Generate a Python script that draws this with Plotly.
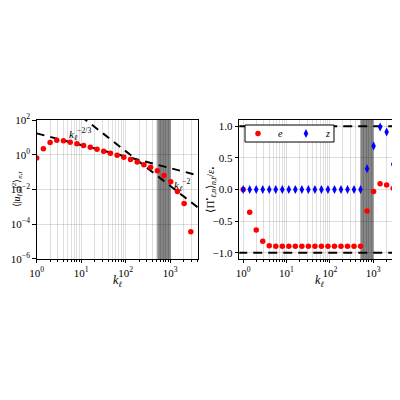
import numpy as np
import plotly.graph_objects as go

# shell wavenumbers k = 2^(n/2)
n_left = list(range(24))
n_right = list(range(25))
k_left = [2 ** (n / 2) for n in n_left]
k_right = [2 ** (n / 2) for n in n_right]

# left panel: log10 of <|u|^2>
log_u2 = [-0.18, 0.34, 0.71, 0.84, 0.80, 0.72, 0.63, 0.53, 0.43, 0.32, 0.20, 0.09,
          -0.03, -0.14, -0.28, -0.42, -0.57, -0.72, -0.92, -1.19, -1.56, -2.12, -2.81, -4.43]
u2 = [10 ** v for v in log_u2]

# right panel fluxes
flux_e = [0.0, -0.36, -0.64, -0.82, -0.89, -0.90, -0.90, -0.90, -0.90, -0.90, -0.90, -0.90,
          -0.90, -0.90, -0.90, -0.90, -0.90, -0.90, -0.90, -0.34, -0.03, 0.09, 0.07, 0.02, 0.0]
flux_z = [0.0] * 19 + [0.33, 0.69, 0.99, 0.91, 0.40, 0.0]

band = [512, 1024]
amp_23 = 17.0
amp_2 = 1.6e4
ref_levels = [1.0, -1.0]

left_yticks = [1e-6, 1e-4, 1e-2, 1e0, 1e2]
left_yticktext = ["10<sup>−6</sup>", "10<sup>−4</sup>", "10<sup>−2</sup>", "10<sup>0</sup>", "10<sup>2</sup>"]
xticks = [1, 10, 100, 1000]
xticktext = ["10<sup>0</sup>", "10<sup>1</sup>", "10<sup>2</sup>", "10<sup>3</sup>"]
minor_xticks = [m * d for d in (1, 10, 100, 1000) for m in range(2, 10)]

FONT = "Liberation Serif"
GRID = "rgba(0,0,0,0.13)"
W, H = 392, 384  # page adds an 8px body margin; keep the page from overflowing 400x400

fig = go.Figure()

kk = np.array(k_right)
fig.add_trace(go.Scatter(x=k_right, y=list(amp_23 * kk ** (-2 / 3)), mode="lines",
                         line=dict(color="black", width=2, dash="8px,6px"),
                         showlegend=False, xaxis="x", yaxis="y"))
fig.add_trace(go.Scatter(x=k_right, y=list(amp_2 * kk ** (-2.0)), mode="lines",
                         line=dict(color="black", width=2, dash="8px,6px"),
                         showlegend=False, xaxis="x", yaxis="y"))
fig.add_trace(go.Scatter(x=k_left, y=u2, mode="markers",
                         marker=dict(color="red", size=5.5), showlegend=False,
                         xaxis="x", yaxis="y"))

for lv in ref_levels:
    fig.add_trace(go.Scatter(x=[k_right[0] / 1.3, k_right[-1] * 1.1], y=[lv, lv], mode="lines",
                             line=dict(color="black", width=2, dash="9px,6px"),
                             showlegend=False, xaxis="x2", yaxis="y2"))
fig.add_trace(go.Scatter(x=k_right, y=flux_e, mode="markers", name="<i>e</i>",
                         marker=dict(color="red", size=5.5), cliponaxis=False,
                         xaxis="x2", yaxis="y2"))
fig.add_trace(go.Scatter(x=k_right, y=flux_z, mode="markers", name="<i>z</i>",
                         marker=dict(color="blue", size=6.5, symbol="diamond-tall"),
                         cliponaxis=False, xaxis="x2", yaxis="y2"))

for xr, yr in [("x", "y domain"), ("x2", "y2 domain")]:
    fig.add_shape(type="rect", x0=band[0], x1=band[1], xref=xr, yref=yr,
                  y0=0, y1=1, fillcolor="rgb(125,125,125)", opacity=0.95, line_width=0,
                  layer="below")

# legend frame
fig.add_shape(type="rect", xref="paper", yref="paper", x0=0.6046, x1=0.8316, y0=0.6510, y1=0.6953,
              fillcolor="white", line=dict(color="black", width=1), layer="above")

axis_common = dict(showline=True, linecolor="black", linewidth=1, mirror=True,
                   ticks="outside", ticklen=3.5, tickcolor="black", automargin=False,
                   tickfont=dict(family=FONT, size=11, color="black"), zeroline=False)

minor = dict(tickmode="array", tickvals=minor_xticks, showgrid=True, gridcolor=GRID,
             gridwidth=0.8, ticks="outside", ticklen=2, tickcolor="black")

YDOM = [0.3464, 0.7083]
ymid = (YDOM[0] + YDOM[1]) / 2

fig.update_layout(
    width=W, height=H, margin=dict(l=0, r=0, t=0, b=0, autoexpand=False),
    paper_bgcolor="white", plot_bgcolor="white",
    font=dict(family=FONT, size=11, color="black"),
    xaxis=dict(axis_common, type="log", domain=[0.0732, 0.4847], range=[0, np.log10(4200)],
               tickvals=xticks, ticktext=xticktext, showgrid=True, gridcolor=GRID, gridwidth=0.8,
               minor=minor, anchor="y"),
    yaxis=dict(axis_common, type="log", domain=YDOM, range=[-6, 2],
               tickvals=left_yticks, ticktext=left_yticktext, showgrid=True,
               gridcolor=GRID, gridwidth=0.8, anchor="x"),
    xaxis2=dict(axis_common, type="log", domain=[0.590, 1.0], range=[-0.09, 3.62],
                tickvals=xticks, ticktext=xticktext, showgrid=True, gridcolor=GRID, gridwidth=0.8,
                minor=minor, anchor="y2"),
    yaxis2=dict(axis_common, domain=YDOM, range=[-1.1, 1.1],
                tickvals=[-1.0, -0.5, 0.0, 0.5, 1.0], tickformat=".1f", showgrid=True,
                gridcolor=GRID, gridwidth=0.8, anchor="x2"),
    legend=dict(orientation="h", x=0.5867, y=0.6732, xanchor="left", yanchor="middle",
                borderwidth=0, bgcolor="rgba(0,0,0,0)",
                font=dict(family=FONT, size=10), entrywidth=3, tracegroupgap=0,
                itemwidth=30),
    annotations=[
        dict(x=np.log10(9.4), y=1.19, xref="x", yref="y", showarrow=False,
             text="<i>k</i><sub><i>ℓ</i></sub><sup>−2/3</sup>", font=dict(family=FONT, size=11)),
        dict(x=3.26, y=-1.76, xref="x", yref="y", showarrow=False,
             text="<i>k</i><sub><i>ℓ</i></sub><sup>−2</sup>", font=dict(family=FONT, size=11)),
        # axis titles
        dict(x=(0.0732 + 0.4847) / 2, y=0.289, xref="paper", yref="paper", showarrow=False,
             xanchor="center", yanchor="middle",
             text="<i>k</i><sub><i>ℓ</i></sub>", font=dict(family=FONT, size=12)),
        dict(x=(0.590 + 1.0) / 2, y=0.289, xref="paper", yref="paper", showarrow=False,
             xanchor="center", yanchor="middle",
             text="<i>k</i><sub><i>ℓ</i></sub>", font=dict(family=FONT, size=12)),
        dict(x=0.0, y=ymid, xref="paper", yref="paper", showarrow=False, textangle=-90,
             xanchor="left", yanchor="middle",
             text="⟨|<i>u</i><sub><i>ℓ,n</i></sub>|<sup>2</sup>⟩<sub><i>n,t</i></sub>",
             font=dict(family=FONT, size=10)),
        dict(x=0.518, y=ymid, xref="paper", yref="paper", showarrow=False, textangle=-90,
             xanchor="center", yanchor="middle",
             text="⟨Π<sup>•</sup><sub><i>ℓ,n</i></sub>⟩<sub><i>n,t</i></sub>/<i>ε</i><sub>•</sub>",
             font=dict(family=FONT, size=11)),
    ],
)

fig.write_html("out.html")
